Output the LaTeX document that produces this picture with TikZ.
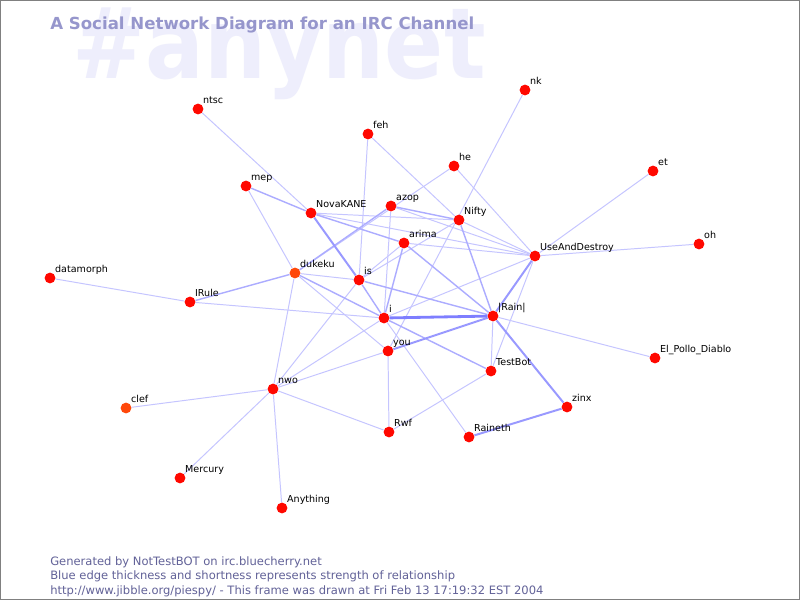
\documentclass[tikz,border=0pt]{standalone}
\usepackage{fontspec}
\setmainfont{DejaVu Sans}
\usepackage{xcolor}
\usepackage{tikz}
\usetikzlibrary{backgrounds}
\definecolor{dotred}{RGB}{255,8,0}
\definecolor{dotorange}{RGB}{255,72,10}
\definecolor{titleblue}{RGB}{150,150,204}
\definecolor{markblue}{RGB}{238,238,252}
\definecolor{footblue}{RGB}{98,98,152}
\definecolor{edgeblue}{RGB}{90,90,255}

\begin{document}
\begin{tikzpicture}[
  x=0.025cm, y=-0.025cm,
  lbl/.style={font=\fontsize{6.8}{8}\selectfont, inner sep=0.6pt, text depth=0pt},
  nick/.style={circle, fill=dotred, minimum size=0.27cm, inner sep=0pt, label={[lbl]45:#1}},
  nickb/.style={nick={#1}, fill=dotorange},
  foot/.style={anchor=base west, inner sep=0pt, text=footblue, font=\fontsize{8.2}{10}\selectfont},
  weak/.style={edgeblue!35, line width=0.7pt},
  mid/.style={edgeblue!50, line width=1pt},
  strong/.style={edgeblue!62, line width=1.4pt},
  top/.style={edgeblue!78, line width=2pt}
]
  \begin{scope}[on background layer]
    \fill[white] (0,0) rectangle (800,600);
    \node[anchor=base west, inner sep=0pt, text=markblue,
      font=\fontsize{70}{70}\bfseries\selectfont] (mark) at (72,78) {\scalebox{0.885}[1]{\#anynet}};
  \end{scope}
  \useasboundingbox (0,0) rectangle (800,600);

  \node[anchor=base west, inner sep=0pt, text=titleblue,
    font=\fontsize{11.8}{14}\bfseries\selectfont] (title) at (50,29) {A Social Network Diagram for an IRC Channel};

  % people on the channel
  \node[nick=ntsc] (ntsc) at (198,109) {};
  \node[nick=feh] (feh) at (368,134) {};
  \node[nick=he] (he) at (454,166) {};
  \node[nick=nk] (nk) at (525,90) {};
  \node[nick=et] (et) at (653,171) {};
  \node[nick=oh] (oh) at (699,244) {};
  \node[nick=mep] (mep) at (246,186) {};
  \node[nick=NovaKANE] (nova) at (311,213) {};
  \node[nick=azop] (azop) at (391,206) {};
  \node[nick=Nifty] (nifty) at (459,220) {};
  \node[nick=arima] (arima) at (404,243) {};
  \node[nick=UseAndDestroy] (uad) at (535,256) {};
  \node[nick=datamorph] (datamorph) at (50,278) {};
  \node[nickb=dukeku] (dukeku) at (295,273) {};
  \node[nick=is] (is) at (359,280) {};
  \node[nick=IRule] (irule) at (190,302) {};
  \node[nick=i] (i) at (384,318) {};
  \node[nick=|Rain|] (rain) at (493,316) {};
  \node[nick=you] (you) at (388,351) {};
  \node[nick=El\_Pollo\_Diablo] (pollo) at (655,358) {};
  \node[nick=TestBot] (testbot) at (491,371) {};
  \node[nick=nwo] (nwo) at (273,389) {};
  \node[nickb=clef] (clef) at (126,408) {};
  \node[nick=zinx] (zinx) at (567,407) {};
  \node[nick=Rwf] (rwf) at (389,432) {};
  \node[nick=Raineth] (raineth) at (469,437) {};
  \node[nick=Mercury] (mercury) at (180,478) {};
  \node[nick=Anything] (anything) at (282,508) {};

  % who talks to whom
  \begin{scope}[on background layer]
    \foreach \a/\b in {ntsc/nova, feh/is, feh/nifty, he/dukeku, he/uad, nk/you, et/uad, oh/uad,
        mep/dukeku, nova/nifty, nova/uad, azop/uad, azop/i, arima/uad, arima/is, nifty/is,
        nifty/uad, uad/testbot, uad/i, dukeku/is, dukeku/you, dukeku/nwo, is/nwo,
        datamorph/irule, irule/i, i/raineth, i/nwo, rain/pollo, rain/testbot, you/nwo,
        you/rwf, testbot/rwf, nwo/rwf, nwo/clef, nwo/mercury, nwo/anything}
      \draw[weak] (\a) -- (\b);
    \foreach \a/\b in {mep/nova, nova/arima, azop/dukeku, azop/nifty, arima/rain, arima/i,
        nifty/rain, dukeku/irule, dukeku/i, is/i, is/rain, i/testbot}
      \draw[mid] (\a) -- (\b);
    \foreach \a/\b in {nova/is, uad/rain, rain/you, rain/zinx, zinx/raineth}
      \draw[strong] (\a) -- (\b);
    \draw[top] (i) -- (rain);
  \end{scope}

  \node[foot] (foot1) at (50,565) {Generated by NotTestBOT on irc.bluecherry.net};
  \node[foot] (foot2) at (50,579.5) {Blue edge thickness and shortness represents strength of relationship};
  \node[foot] (foot3) at (50,594) {http://www.jibble.org/piespy/ - This frame was drawn at Fri Feb 13 17:19:32 EST 2004};

  \draw[gray, line width=0.7pt] (0.5,0.5) rectangle (799.5,599.5);
\end{tikzpicture}
\end{document}
